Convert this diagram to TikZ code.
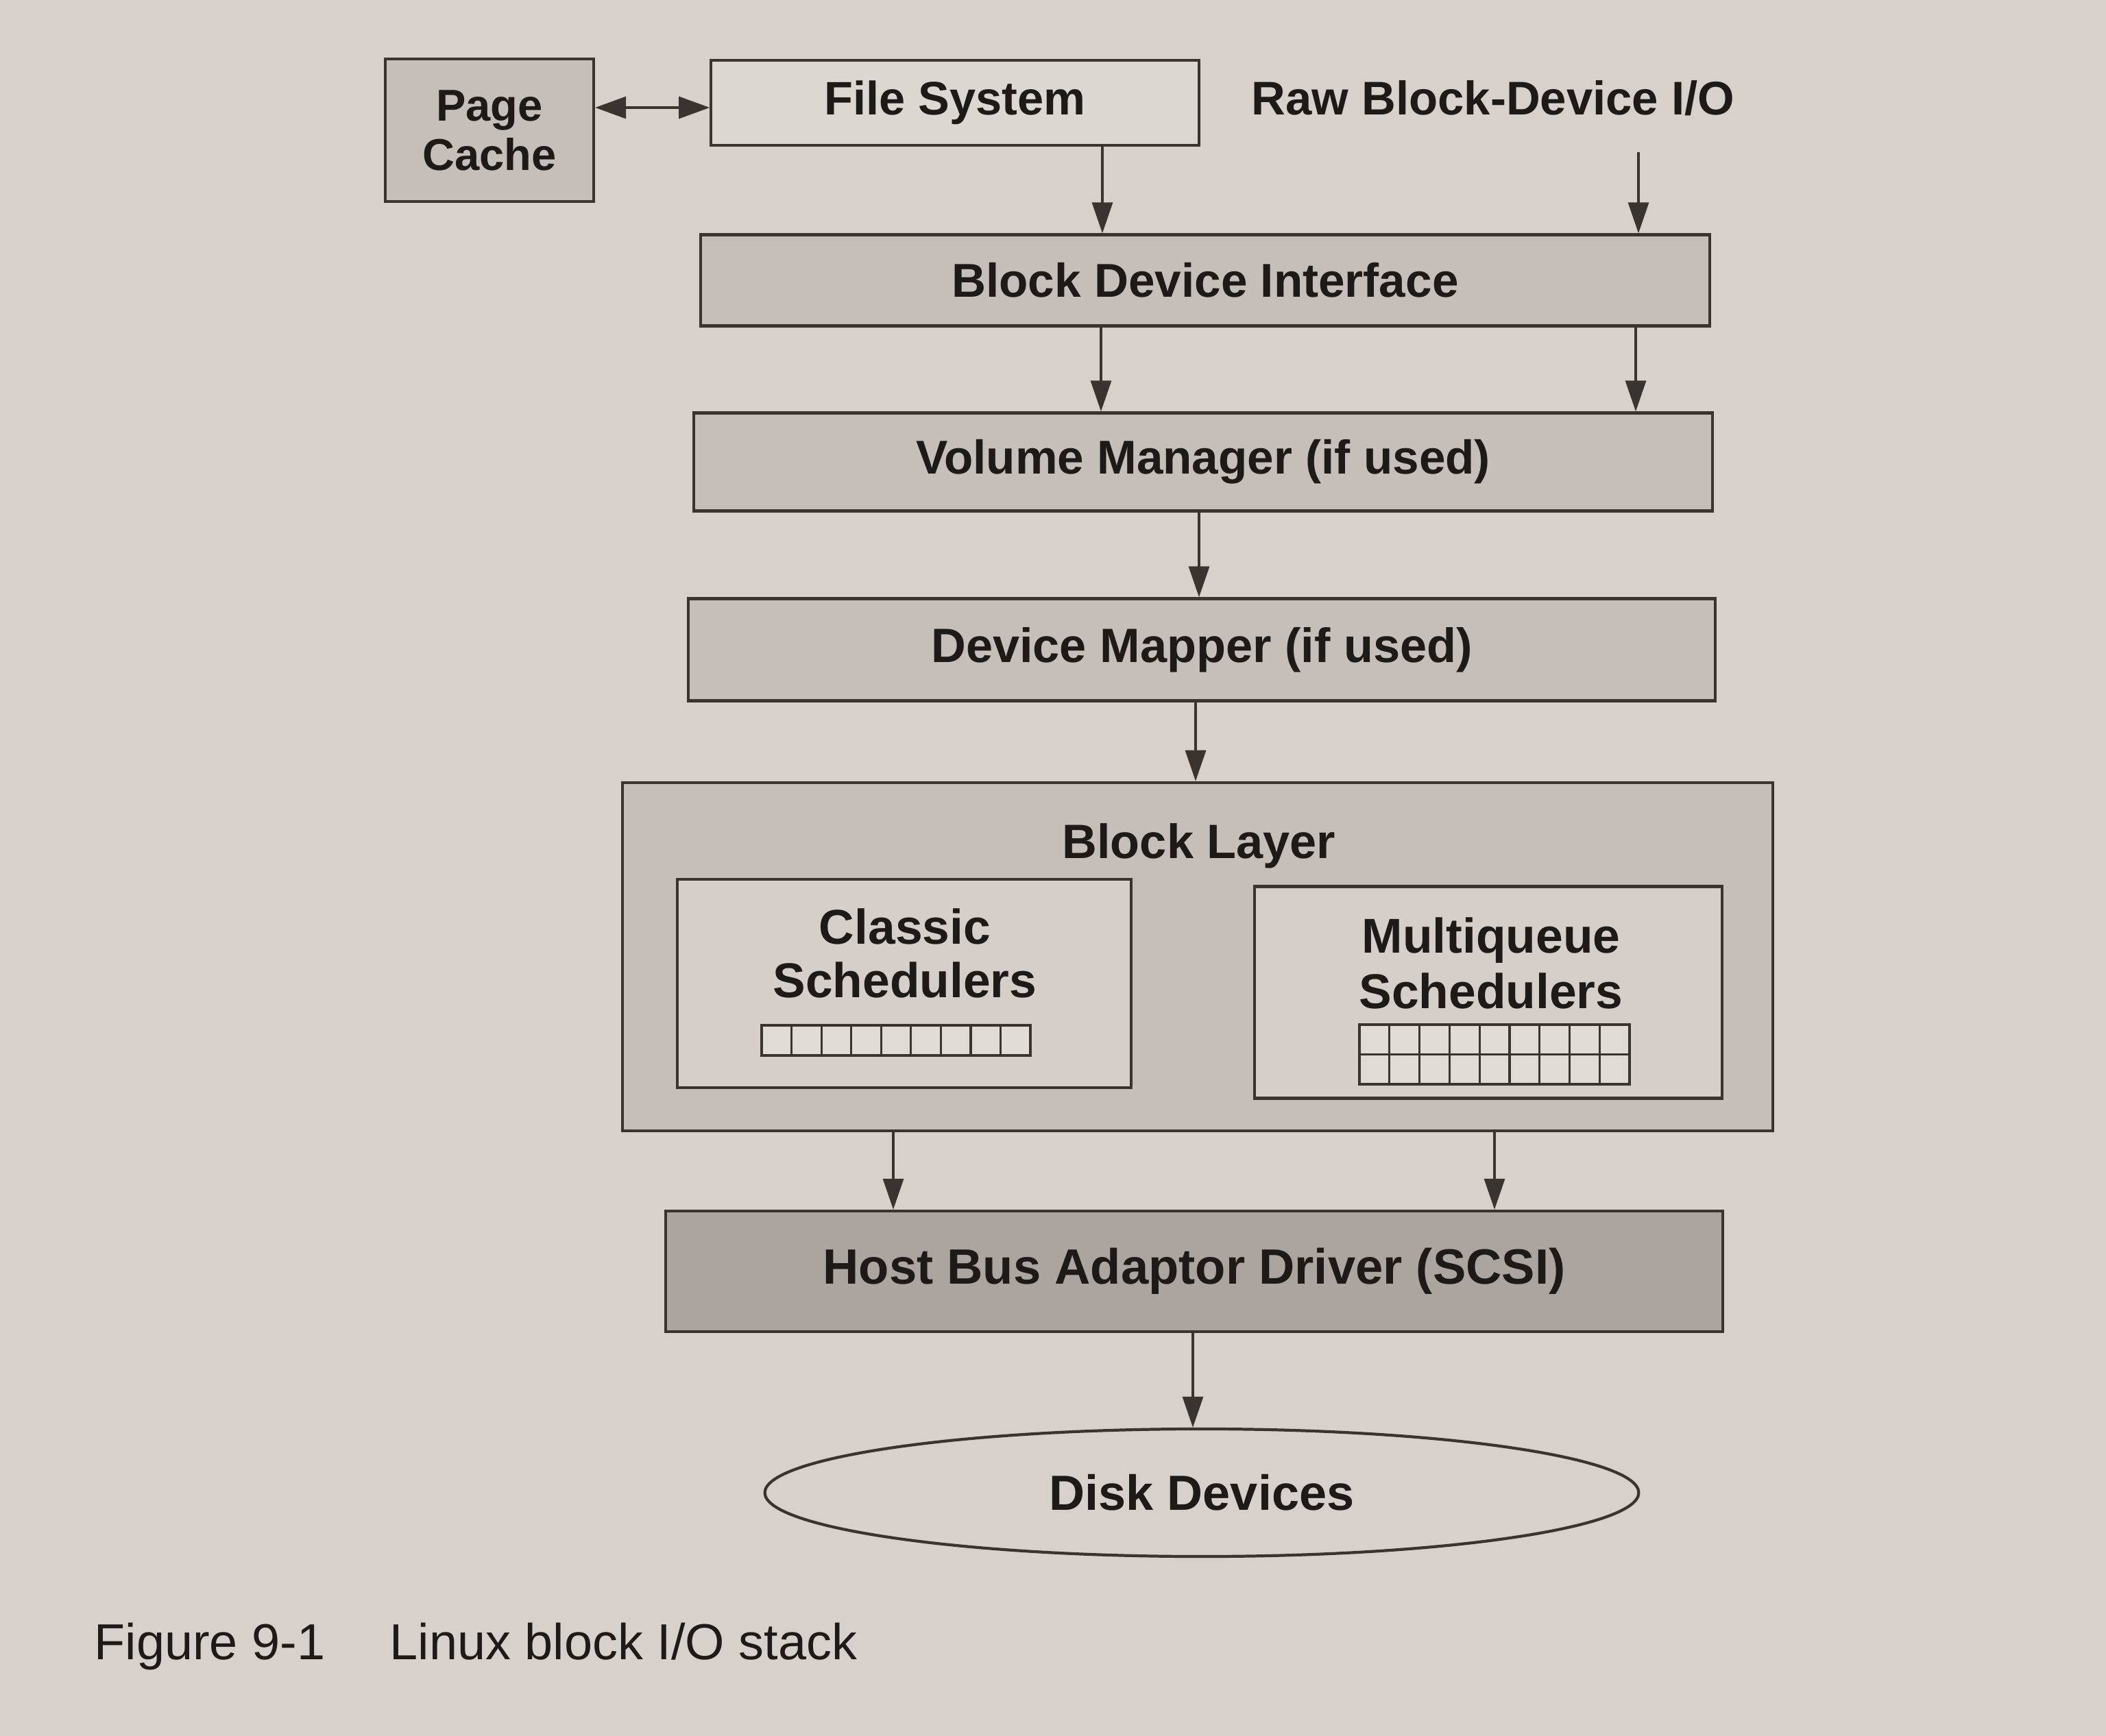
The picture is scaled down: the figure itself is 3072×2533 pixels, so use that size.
\documentclass[tikz,border=0pt]{standalone}
\usepackage{fontspec}
\setmainfont{Liberation Sans}
\usetikzlibrary{arrows.meta,shapes.geometric}
\definecolor{paper}{HTML}{D8D1CB}
\definecolor{boxgrey}{HTML}{C5BEB9}
\definecolor{fslight}{HTML}{DDD7D1}
\definecolor{innerg}{HTML}{D5CEC9}
\definecolor{hbagrey}{HTML}{ABA49F}
\definecolor{cellc}{HTML}{E1DBD6}
\definecolor{ink}{HTML}{1E1A18}
\definecolor{linec}{HTML}{3A3431}
\begin{document}
\begin{tikzpicture}[x=0.01cm,y=-0.01cm,
  box/.style={draw=linec,line width=1.2pt,rectangle,inner sep=0pt,text=ink,align=center},
  txt/.style={text=ink,inner sep=0pt,align=center},
  ft/.style={font=\fontsize{#1}{24}\selectfont\bfseries},
  arr/.style={draw=linec,line width=0.9pt,-{Triangle[length=0.45cm,width=0.3cm]}},
  darr/.style={draw=linec,line width=0.9pt,{Triangle[length=0.45cm,width=0.32cm]}-{Triangle[length=0.45cm,width=0.32cm]}},
  gridline/.style={draw=linec,line width=0.9pt}]
\fill[paper] (0,0) rectangle (3072,2533);
\useasboundingbox (0,0) rectangle (3072,2533);

% nodes
\node[box,fill=boxgrey,minimum width=3.04cm,minimum height=2.08cm,
      font=\fontsize{18.5}{20.5}\selectfont\bfseries] (pc) at (714,190) {Page\\Cache};
\node[box,fill=fslight,minimum width=7.11cm,minimum height=1.24cm,ft=19.5] (fs) at (1393,150) {File System};
\node[txt,ft=19.6] (raw) at (2178,143) {Raw Block-Device I/O};
\coordinate (rawend) at (2390,222);
\node[box,fill=boxgrey,minimum width=14.71cm,minimum height=1.33cm,ft=19.7] (bdi) at (1758,409) {Block Device Interface};
\node[box,fill=boxgrey,minimum width=14.85cm,minimum height=1.43cm,ft=19.7] (vm) at (1755,674) {Volume Manager (if used)};
\node[box,fill=boxgrey,minimum width=14.97cm,minimum height=1.49cm,ft=20] (dm) at (1753,948) {Device Mapper (if used)};
\node[box,fill=boxgrey,minimum width=16.77cm,minimum height=5.08cm] (bl) at (1747,1396) {};
\node[txt,ft=20] (blt) at (1749,1234) {Block Layer};
\node[box,fill=innerg,minimum width=6.61cm,minimum height=3.04cm] (cs) at (1319,1435) {};
\node[txt,anchor=base,ft=20.3] (cst1) at (1320,1377) {Classic};
\node[txt,anchor=base,ft=20.3] (cst2) at (1320,1455) {Schedulers};
\node[box,fill=innerg,minimum width=6.82cm,minimum height=3.09cm] (mq) at (2171,1448) {};
\node[txt,anchor=base,ft=20.3] (mqt1) at (2175,1390) {Multiqueue};
\node[txt,anchor=base,ft=20.3] (mqt2) at (2175,1471) {Schedulers};
\node[box,fill=hbagrey,minimum width=15.41cm,minimum height=1.76cm,ft=20.6] (hba) at (1742,1855) {Host Bus Adaptor Driver (SCSI)};
\node[draw=linec,line width=1.2pt,ellipse,inner sep=0pt,minimum width=12.74cm,minimum height=1.86cm,text=ink,ft=20.5] (disk) at (1753,2178) {Disk Devices};

% queue grids
\fill[cellc] (1111,1496) rectangle (1503,1540);
\draw[gridline] (1111,1496) rectangle (1503,1540);
\foreach \i in {1,...,8} \draw[gridline] ({1111+\i*43.56},1496) -- ({1111+\i*43.56},1540);
\fill[cellc] (1983,1495) rectangle (2377,1582);
\draw[gridline] (1983,1495) rectangle (2377,1582);
\draw[gridline] (1983,1538.5) -- (2377,1538.5);
\foreach \i in {1,...,8} \draw[gridline] ({1983+\i*43.78},1495) -- ({1983+\i*43.78},1582);

% connectors
\draw[darr] (pc.east |- 0,157) -- (fs.west |- 0,157);
\draw[arr] (1608,0 |- fs.south) -- (1608,0 |- bdi.north);
\draw[arr] (rawend) -- (rawend |- bdi.north);
\draw[arr] (1606,0 |- bdi.south) -- (1606,0 |- vm.north);
\draw[arr] (2386,0 |- bdi.south) -- (2386,0 |- vm.north);
\draw[arr] (1749,0 |- vm.south) -- (1749,0 |- dm.north);
\draw[arr] (1744,0 |- dm.south) -- (1744,0 |- bl.north);
\draw[arr] (1303,0 |- bl.south) -- (1303,0 |- hba.north);
\draw[arr] (2180,0 |- bl.south) -- (2180,0 |- hba.north);
\draw[arr] (1740,0 |- hba.south) -- (1740,0 |- disk.north);

% caption
\node[txt,anchor=base west,font=\fontsize{21}{24}\selectfont] (cap1) at (137,2421) {Figure 9-1};
\node[txt,anchor=base west,font=\fontsize{21}{24}\selectfont] (cap2) at (568,2421) {Linux block I/O stack};
\end{tikzpicture}
\end{document}
